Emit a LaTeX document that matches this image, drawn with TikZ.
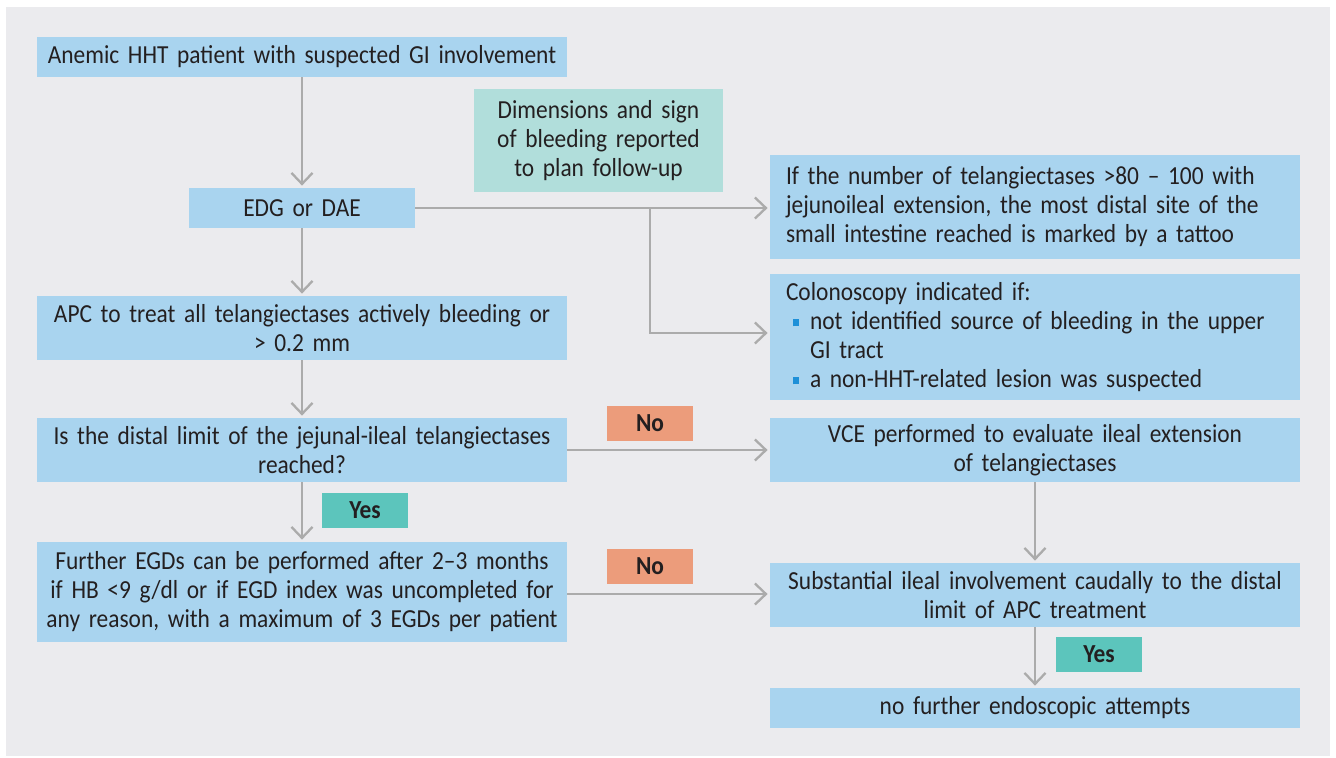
\documentclass[tikz,border=0pt]{standalone}
\usepackage{fontspec}
\setmainfont{Carlito}[FakeStretch=0.9]
\usetikzlibrary{arrows.meta,calc}
\definecolor{bg}{HTML}{EBEBEE}
\definecolor{boxblue}{HTML}{A9D4EF}
\definecolor{boxteal}{HTML}{B1DEDB}
\definecolor{noorange}{HTML}{EC9C7B}
\definecolor{yesteal}{HTML}{5CC5BC}
\definecolor{arrowgray}{HTML}{ABABAB}
\definecolor{txt}{HTML}{231F20}
\definecolor{bulletblue}{HTML}{1E90D8}
\newcommand\bul{\hspace*{3.5pt}{\color{bulletblue}\rule[1.5pt]{3pt}{3.5pt}}\hspace{5.5pt}}
\newcommand\boxfont{\fontsize{13}{14.5}\selectfont\spaceskip=2pt plus 0.5pt minus 0.3pt\relax}
\begin{document}
\begin{tikzpicture}[x=0.5pt,y=-0.5pt,
  basebox/.style={inner sep=0pt, text=txt, font=\boxfont},
  bluebox/.style={basebox, fill=boxblue, align=center, text width=#1},
  bluebox/.default=250pt,
  leftbox/.style={basebox, fill=boxblue, align=left, text width=249pt, minimum width=265pt},
  tealbox/.style={basebox, fill=boxteal, align=center, text width=120pt},
  nolabel/.style={basebox, fill=noorange, font=\boxfont\bfseries, minimum width=43pt, minimum height=17.5pt},
  yeslabel/.style={basebox, fill=yesteal, font=\boxfont\bfseries, minimum width=43pt, minimum height=17.5pt},
  arr/.style={draw=arrowgray, line width=1.15pt, -{Straight Barb[length=5.5pt,width=10.5pt]}, shorten >=1pt}
]
\useasboundingbox (0,0) rectangle (1336,757);
\fill[bg] (6,7) rectangle (1330,756);

\node[bluebox=258pt, minimum width=265pt, minimum height=20pt] (n1) at (302,57)
  {Anemic HHT patient with suspected GI involvement};
\node[tealbox, minimum width=124.5pt, minimum height=51.5pt] (teal) at (598.5,140.5)
  {Dimensions and sign\\of bleeding reported\\to plan follow-up};
\node[bluebox=110pt, minimum width=113pt, minimum height=20pt] (edg) at (302,208)
  {EDG or DAE};
\node[leftbox, minimum height=52pt] (r1) at (1035,207)
  {If the number of telangiectases >80 – 100 with\\jejunoileal extension, the most distal site of the\\small intestine reached is marked by a tattoo};
\node[leftbox, minimum height=63pt] (r2) at (1035,337)
  {Colonoscopy indicated if:\\\bul not identified source of bleeding in the upper\\\hspace*{12pt}GI tract\\\bul a non-HHT-related lesion was suspected};
\node[bluebox=258pt, minimum width=265pt, minimum height=32pt] (apc) at (302,328)
  {APC to treat all telangiectases actively bleeding or\\> 0.2 mm};
\node[bluebox=258pt, minimum width=265pt, minimum height=32pt] (isq) at (302,450)
  {Is the distal limit of the jejunal-ileal telangiectases\\reached?};
\node[yeslabel] (yes1) at (365,510.5) {Yes};
\node[bluebox=258pt, minimum width=265pt, minimum height=50pt] (further) at (302,592)
  {Further EGDs can be performed after 2–3 months\\if HB <9 g/dl or if EGD index was uncompleted for\\any reason, with a maximum of 3 EGDs per patient};
\node[nolabel] (no1) at (650,423.5) {No};
\node[nolabel] (no2) at (650,566) {No};
\node[bluebox=258pt, minimum width=265pt, minimum height=32pt] (vce) at (1035,450)
  {VCE performed to evaluate ileal extension\\of telangiectases};
\node[bluebox=258pt, minimum width=265pt, minimum height=32pt] (subst) at (1035,595)
  {Substantial ileal involvement caudally to the distal\\limit of APC treatment};
\node[yeslabel] (yes2) at (1099,654.5) {Yes};
\node[bluebox=258pt, minimum width=265pt, minimum height=20pt] (nofurther) at (1035,708)
  {no further endoscopic attempts};

\coordinate (br) at (650,208);
\draw[arr] (n1.south) -- (edg.north);
\draw[arr] (edg.south) -- (apc.north);
\draw[arr] (apc.south) -- (isq.north);
\draw[arr] (isq.south) -- (further.north);
\draw[arr] (edg.east) -- (edg.east -| r1.west);
\draw[arr] (br) |- ([yshift=2pt]r2.west);
\draw[arr] (isq.east) -- (isq.east -| vce.west);
\draw[arr] ([yshift=-1pt]further.east) -- ([yshift=-1pt]further.east -| subst.west);
\draw[arr] (vce.south) -- (subst.north);
\draw[arr] (subst.south) -- (nofurther.north);
\end{tikzpicture}
\end{document}
